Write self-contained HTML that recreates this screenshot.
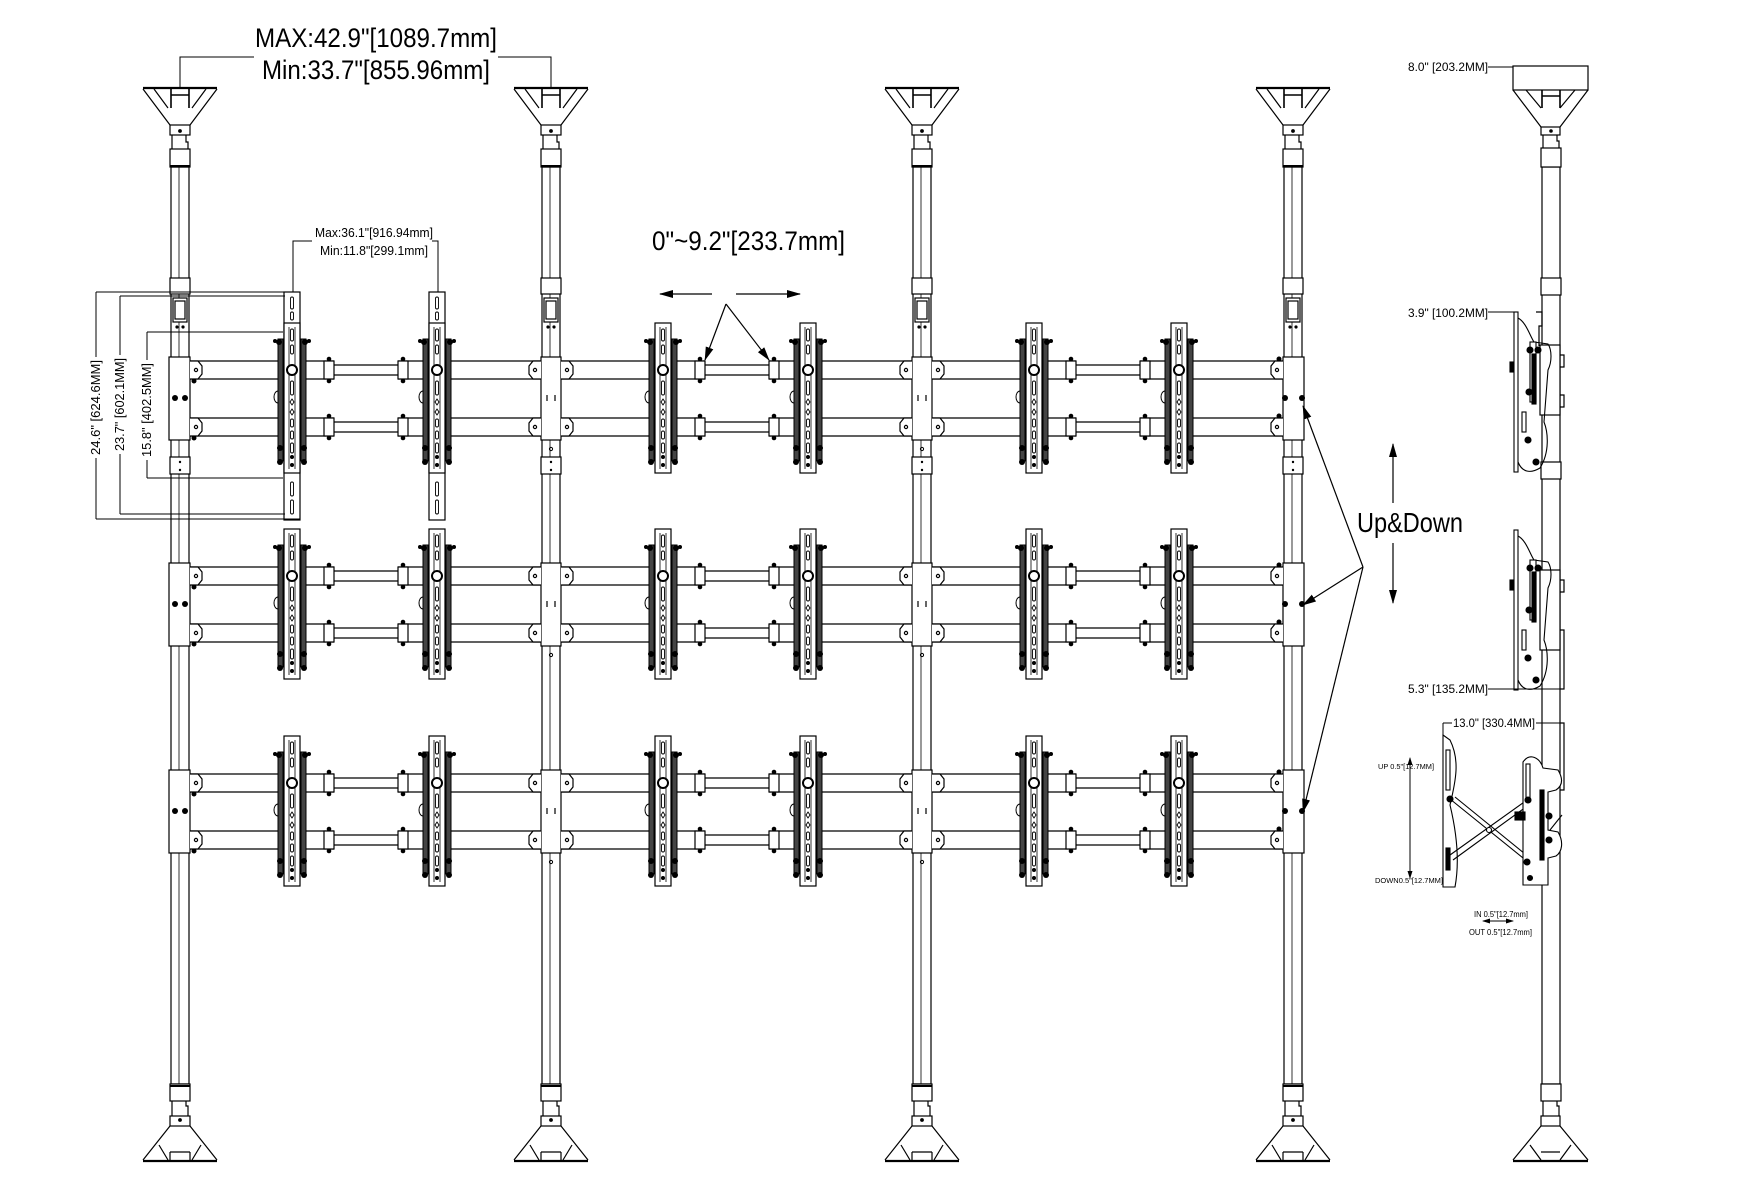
<!DOCTYPE html>
<html><head><meta charset="utf-8"><style>
html,body{margin:0;padding:0;background:#fff;}
svg{display:block;}
text{font-family:"Liberation Sans",Arial,sans-serif;fill:#000;}
</style></head><body>
<svg width="1738" height="1196" viewBox="0 0 1738 1196" xmlns="http://www.w3.org/2000/svg">
<defs>
<marker id="ah" markerWidth="14" markerHeight="8" refX="13" refY="4" orient="auto" markerUnits="userSpaceOnUse"><path d="M0,0 L14,4 L0,8 Z" fill="#000"/></marker>
<marker id="ahs" markerWidth="8" markerHeight="5" refX="7" refY="2.5" orient="auto" markerUnits="userSpaceOnUse"><path d="M0,0 L8,2.5 L0,5 Z" fill="#000"/></marker>
<g id="pole" fill="#fff" stroke="#000" stroke-width="1.2">
  <line x1="-37" y1="88" x2="37" y2="88" stroke-width="2.2"/>
  <path d="M-37,89 L-10,125 M37,89 L10,125 M-26,89 L-12,108 M26,89 L12,108" fill="none"/>
  <path d="M-9,89 V108 M9,89 V108 M-9,95 H9" fill="none" stroke-width="1.6"/>
  <rect x="-10" y="125" width="20" height="10"/>
  <circle cx="0" cy="131" r="1.3" fill="#000"/>
  <path d="M-8,135 V149 M6,135 V142 H8 V149" fill="none"/>
  <rect x="-9" y="167" width="18" height="917"/>
  <line x1="-1" y1="167" x2="-1" y2="1084" stroke-width="0.8"/>
  <rect x="-10" y="149" width="20" height="18"/>
  <line x1="-10" y1="166" x2="10" y2="166" stroke-width="2"/>
  <rect x="-10" y="278" width="20" height="16"/>
  <rect x="-7" y="298" width="14" height="24"/>
  <rect x="-5" y="301" width="10" height="18"/>
  <circle cx="-3" cy="327" r="1" fill="#000"/><circle cx="3" cy="327" r="1" fill="#000"/>
  <rect x="-10" y="1084" width="20" height="17"/>
  <line x1="-10" y1="1086" x2="10" y2="1086" stroke-width="2"/>
  <path d="M-8,1101 V1116 M6,1101 V1106 H8 V1116" fill="none"/>
  <rect x="-10" y="1116" width="20" height="10"/>
  <circle cx="0" cy="1120" r="1.3" fill="#000"/>
  <path d="M-10,1126 L-37,1160 M10,1126 L37,1160 M-21,1145 L-12,1160 M21,1145 L12,1160 M-10,1152 H10 M-10,1152 V1160 M10,1152 V1160" fill="none"/>
  <line x1="-37" y1="1161" x2="37" y2="1161" stroke-width="2.2"/>
</g>
<g id="earR" fill="#fff" stroke="#000" stroke-width="1.2">
  <path d="M0,-9 H8 L12,-4 V4 L8,9 H0"/>
  <circle cx="6" cy="0" r="1.6" fill="none"/>
</g>
<g id="earL" fill="#fff" stroke="#000" stroke-width="1.2">
  <path d="M0,-9 H-8 L-12,-4 V4 L-8,9 H0"/>
  <circle cx="-6" cy="0" r="1.6" fill="none"/>
</g>
<g id="hubM">
  <rect x="-10" y="-13" width="20" height="83" fill="#fff" stroke="#000" stroke-width="1.2"/>
  <use href="#earL" x="-10" y="0"/><use href="#earR" x="10" y="0"/>
  <use href="#earL" x="-10" y="57"/><use href="#earR" x="10" y="57"/>
  <path d="M-4,25 V31 M4,25 V31" stroke="#000" stroke-width="1.2"/>
  <circle cx="0" cy="79" r="1.6" fill="none" stroke="#000"/>
</g>
<g id="hubLft">
  <rect x="-11" y="-13" width="21" height="83" fill="#fff" stroke="#000" stroke-width="1.2"/>
  <use href="#earR" x="10" y="0"/><use href="#earR" x="10" y="57"/>
  <circle cx="-5" cy="28" r="3" fill="#000"/><circle cx="5" cy="28" r="3" fill="#000"/>
  <circle cx="14" cy="11" r="2.5" fill="#000"/><circle cx="14" cy="68" r="2.5" fill="#000"/>
</g>
<g id="hubRgt">
  <rect x="-10" y="-13" width="21" height="83" fill="#fff" stroke="#000" stroke-width="1.2"/>
  <use href="#earL" x="-10" y="0"/><use href="#earL" x="-10" y="57"/>
  <circle cx="-8" cy="28" r="3" fill="#000"/><circle cx="9" cy="28" r="3" fill="#000"/>
  <circle cx="-14" cy="-11" r="2.5" fill="#000"/><circle cx="-14" cy="46" r="2.5" fill="#000"/>
</g>
<g id="span" stroke="#000" stroke-width="1.2" fill="#fff">
  <path d="M10,-9H154 M10,9H154 M218,-9H361 M218,9H361 M154,-5H218 M154,5H218" fill="none"/>
  <rect x="144" y="-9" width="10" height="18"/>
  <rect x="218" y="-9" width="10" height="18"/>
  <circle cx="149" cy="-11" r="2.3" fill="#000" stroke="none"/><circle cx="149" cy="11" r="2.3" fill="#000" stroke="none"/>
  <circle cx="223" cy="-11" r="2.3" fill="#000" stroke="none"/><circle cx="223" cy="11" r="2.3" fill="#000" stroke="none"/>
</g>
<g id="bk">
  <rect x="-14" y="16" width="5" height="122" fill="#444" stroke="#000"/>
  <rect x="9" y="16" width="5" height="122" fill="#444" stroke="#000"/>
  <rect x="-8" y="0" width="16" height="150" fill="#fff" stroke="#000" stroke-width="1.2"/>
  <path d="M-3,4 V146 M3,4 V146" stroke="#000" stroke-width="0.8"/>
  <g fill="none" stroke="#000" stroke-width="0.9">
    <rect x="-1.5" y="6" width="3" height="12" rx="1.5"/>
    <rect x="-1.5" y="22" width="3" height="9" rx="1.5"/>
    <rect x="-1.5" y="58" width="3" height="14" rx="1.5"/>
    <path d="M0,76 l2,3 l-2,3 l-2,-3 z M0,86 l2,3 l-2,3 l-2,-3 z"/>
    <rect x="-1.5" y="96" width="3" height="8" rx="1.5"/>
    <rect x="-1.5" y="108" width="3" height="8" rx="1.5"/>
    <rect x="-1.5" y="120" width="3" height="10" rx="1.5"/>
  </g>
  <circle cx="0" cy="47" r="5" fill="#fff" stroke="#000" stroke-width="2"/>
  <circle cx="-13" cy="19" r="3" fill="#000"/><circle cx="13" cy="19" r="3" fill="#000"/>
  <circle cx="17" cy="18" r="2" fill="#000"/><circle cx="-17" cy="18" r="2" fill="#000"/>
  <circle cx="-12" cy="125" r="3" fill="#000"/><circle cx="12" cy="125" r="3" fill="#000"/>
  <circle cx="-12" cy="139" r="3" fill="#000"/><circle cx="12" cy="139" r="3" fill="#000"/>
  <circle cx="0" cy="134" r="2" fill="#000"/><circle cx="0" cy="142" r="2" fill="#000"/>
  <path d="M-14,68 a4,6 0 0 0 0,12 z" fill="#fff" stroke="#000"/>
</g>
<g id="sideBk" fill="none" stroke="#000" stroke-width="1.1">
  <rect x="1514" y="0" width="4" height="160" fill="#fff"/>
  <path d="M1518,6 C1526,10 1530,24 1534,30 L1548,32 C1552,38 1552,50 1548,58 L1544,110 C1548,120 1550,140 1540,156 C1530,162 1522,160 1518,150"/>
  <rect x="1530" y="30" width="6" height="60" fill="#fff"/>
  <rect x="1522" y="100" width="4" height="20" fill="#fff"/>
  <rect x="1532" y="42" width="4" height="50" fill="#000"/>
  <circle cx="1530" cy="38" r="3" fill="#000"/><circle cx="1538" cy="38" r="3" fill="#000"/>
  <circle cx="1529" cy="80" r="3" fill="#000"/><circle cx="1528" cy="128" r="3" fill="#000"/>
  <circle cx="1536" cy="150" r="3" fill="#000"/>
  <rect x="1510" y="50" width="3" height="10" fill="#000"/>
</g>
</defs>

<use href="#pole" x="180"/><use href="#pole" x="551"/><use href="#pole" x="922"/><use href="#pole" x="1293"/>

<g fill="#fff" stroke="#000" stroke-width="1.2">
  <rect x="170" y="457" width="20" height="17"/><rect x="541" y="457" width="20" height="17"/>
  <rect x="912" y="457" width="20" height="17"/><rect x="1283" y="457" width="20" height="17"/>
</g>
<g fill="#000">
  <circle cx="551" cy="462" r="1.2"/><circle cx="551" cy="470" r="1.2"/>
  <circle cx="922" cy="462" r="1.2"/><circle cx="922" cy="470" r="1.2"/>
  <circle cx="1293" cy="462" r="1.2"/><circle cx="1293" cy="470" r="1.2"/>
  <circle cx="180" cy="462" r="1.2"/><circle cx="180" cy="470" r="1.2"/>
</g>

<g>
  <use href="#span" x="180" y="370"/><use href="#span" x="551" y="370"/><use href="#span" x="922" y="370"/>
  <use href="#span" x="180" y="427"/><use href="#span" x="551" y="427"/><use href="#span" x="922" y="427"/>
  <use href="#span" x="180" y="576"/><use href="#span" x="551" y="576"/><use href="#span" x="922" y="576"/>
  <use href="#span" x="180" y="633"/><use href="#span" x="551" y="633"/><use href="#span" x="922" y="633"/>
  <use href="#span" x="180" y="783"/><use href="#span" x="551" y="783"/><use href="#span" x="922" y="783"/>
  <use href="#span" x="180" y="840"/><use href="#span" x="551" y="840"/><use href="#span" x="922" y="840"/>
</g>

<use href="#hubLft" x="180" y="370"/><use href="#hubLft" x="180" y="576"/><use href="#hubLft" x="180" y="783"/>
<use href="#hubM" x="551" y="370"/><use href="#hubM" x="551" y="576"/><use href="#hubM" x="551" y="783"/>
<use href="#hubM" x="922" y="370"/><use href="#hubM" x="922" y="576"/><use href="#hubM" x="922" y="783"/>
<use href="#hubRgt" x="1293" y="370"/><use href="#hubRgt" x="1293" y="576"/><use href="#hubRgt" x="1293" y="783"/>

<g fill="#fff" stroke="#000" stroke-width="1.2">
  <rect x="284" y="292" width="16" height="228"/>
  <rect x="429" y="292" width="16" height="228"/>
  <g fill="none" stroke-width="0.9">
    <rect x="290.5" y="297" width="3" height="12" rx="1.5"/><rect x="290.5" y="312" width="3" height="8" rx="1.5"/>
    <rect x="290.5" y="482" width="3" height="14" rx="1.5"/><rect x="290.5" y="500" width="3" height="14" rx="1.5"/>
    <rect x="435.5" y="297" width="3" height="12" rx="1.5"/><rect x="435.5" y="312" width="3" height="8" rx="1.5"/>
    <rect x="435.5" y="482" width="3" height="14" rx="1.5"/><rect x="435.5" y="500" width="3" height="14" rx="1.5"/>
  </g>
</g>

<g>
  <use href="#bk" x="292" y="323"/><use href="#bk" x="437" y="323"/>
  <use href="#bk" x="663" y="323"/><use href="#bk" x="808" y="323"/>
  <use href="#bk" x="1034" y="323"/><use href="#bk" x="1179" y="323"/>
  <use href="#bk" x="292" y="529"/><use href="#bk" x="437" y="529"/>
  <use href="#bk" x="663" y="529"/><use href="#bk" x="808" y="529"/>
  <use href="#bk" x="1034" y="529"/><use href="#bk" x="1179" y="529"/>
  <use href="#bk" x="292" y="736"/><use href="#bk" x="437" y="736"/>
  <use href="#bk" x="663" y="736"/><use href="#bk" x="808" y="736"/>
  <use href="#bk" x="1034" y="736"/><use href="#bk" x="1179" y="736"/>
</g>

<g stroke="#000" stroke-width="1" fill="none">
  <path d="M180,88 V57 H254 M498,57 H551 V88"/>
  <path d="M293,292 V241 H312 M432,241 H438 V292"/>
  <path d="M96,292 H300 M96,519 H300 M96,292 V357 M96,458 V519"/>
  <path d="M120,296 H285 M120,514 H285 M120,296 V355 M120,454 V514"/>
  <path d="M147,332 H283 M147,478 H283 M147,332 V360 M147,460 V478"/>
</g>
<text x="255" y="47" font-size="27" textLength="242" lengthAdjust="spacingAndGlyphs">MAX:42.9"[1089.7mm]</text>
<text x="262" y="79" font-size="27" textLength="228" lengthAdjust="spacingAndGlyphs">Min:33.7"[855.96mm]</text>
<text x="315" y="237" font-size="12.5" textLength="118" lengthAdjust="spacingAndGlyphs">Max:36.1"[916.94mm]</text>
<text x="320" y="255" font-size="12.5" textLength="108" lengthAdjust="spacingAndGlyphs">Min:11.8"[299.1mm]</text>
<text transform="translate(100,455) rotate(-90)" font-size="13" textLength="95" lengthAdjust="spacingAndGlyphs">24.6" [624.6MM]</text>
<text transform="translate(124,451) rotate(-90)" font-size="13" textLength="93" lengthAdjust="spacingAndGlyphs">23.7" [602.1MM]</text>
<text transform="translate(151,457) rotate(-90)" font-size="13" textLength="94" lengthAdjust="spacingAndGlyphs">15.8" [402.5MM]</text>

<text x="652" y="250" font-size="27" textLength="193" lengthAdjust="spacingAndGlyphs">0"~9.2"[233.7mm]</text>
<g stroke="#000" stroke-width="1.2">
  <line x1="712" y1="294" x2="660" y2="294" marker-end="url(#ah)"/>
  <line x1="736" y1="294" x2="800" y2="294" marker-end="url(#ah)"/>
  <line x1="726" y1="304" x2="705" y2="360" marker-end="url(#ah)"/>
  <line x1="726" y1="304" x2="769" y2="360" marker-end="url(#ah)"/>
</g>

<text x="1357" y="532" font-size="28" textLength="106" lengthAdjust="spacingAndGlyphs">Up&amp;Down</text>
<g stroke="#000" stroke-width="1.2">
  <line x1="1393" y1="503" x2="1393" y2="444" marker-end="url(#ah)"/>
  <line x1="1393" y1="543" x2="1393" y2="603" marker-end="url(#ah)"/>
  <line x1="1363" y1="567" x2="1303" y2="406" marker-end="url(#ah)"/>
  <line x1="1363" y1="567" x2="1303" y2="605" marker-end="url(#ah)"/>
  <line x1="1363" y1="567" x2="1303" y2="812" marker-end="url(#ah)"/>
</g>

<g fill="#fff" stroke="#000" stroke-width="1.2">
  <rect x="1513" y="66" width="75" height="24"/>
  <path d="M1513,90 L1541,127 M1588,90 L1560,127 M1526,90 L1541,108 M1575,90 L1560,108" fill="none"/>
  <path d="M1542,90 V108 M1560,90 V108 M1542,96 H1560" fill="none" stroke-width="1.6"/>
  <rect x="1541" y="127" width="19" height="8"/>
  <circle cx="1551" cy="131" r="1.2" fill="#000"/>
  <path d="M1543,135 V148 M1557,135 V141 H1559 V148" fill="none"/>
  <rect x="1542" y="167" width="18" height="917"/>
  <rect x="1541" y="148" width="20" height="19"/>
  <rect x="1541" y="278" width="20" height="17"/>
  <rect x="1540" y="345" width="20" height="70"/>
  <path d="M1560,355 h4 v12 h-4 M1560,395 h4 v12 h-4" fill="none"/>
  <rect x="1541" y="462" width="20" height="17"/>
  <rect x="1540" y="570" width="20" height="80"/>
  <path d="M1560,580 h4 v12 h-4 M1560,630 h4 v59 h-4" fill="none"/>
  <path d="M1560,723 h4 v67 h-4" fill="none"/>
  <rect x="1541" y="1084" width="20" height="17"/>
  <path d="M1543,1101 V1116 M1557,1101 V1106 H1559 V1116" fill="none"/>
  <rect x="1541" y="1116" width="19" height="10"/>
  <path d="M1541,1126 L1513,1160 M1560,1126 L1588,1160 M1530,1145 L1541,1160 M1571,1145 L1560,1160 M1541,1152 H1560" fill="none"/>
  <line x1="1513" y1="1161" x2="1588" y2="1161" stroke-width="2.2"/>
  <path d="M1536,312 h6 v14 h-3 v20" fill="none"/>
</g>
<use href="#sideBk" x="0" y="312"/>
<use href="#sideBk" x="0" y="530"/>
<g stroke="#000" stroke-width="1.1" fill="#fff">
  <path d="M1443,735 V887 H1455 C1460,860 1456,830 1450,805 C1456,780 1460,760 1450,740 Z"/>
  <rect x="1446" y="750" width="4" height="40"/>
  <rect x="1446" y="848" width="4" height="22" fill="#000"/>
  <path d="M1450,799 L1528,862 M1450,855 L1527,800 M1455,797 L1530,858 M1453,860 L1530,804" fill="none"/>
  <circle cx="1489" cy="830" r="2.5"/>
  <path d="M1523,885 V762 C1530,752 1540,758 1543,768 L1558,770 C1564,780 1562,786 1556,790 L1548,792 V830 L1558,832 C1564,842 1562,852 1556,856 L1548,858 V885 Z"/>
  <rect x="1526" y="764" width="4" height="38"/>
  <rect x="1540" y="790" width="4" height="70" fill="#000"/>
  <circle cx="1450" cy="799" r="3" fill="#000"/><circle cx="1528" cy="800" r="3" fill="#000"/>
  <circle cx="1527" cy="862" r="3" fill="#000"/><circle cx="1530" cy="878" r="2.5" fill="#000"/>
  <rect x="1515" y="812" width="10" height="8" fill="#000"/>
  <circle cx="1549" cy="816" r="3" fill="#000"/><circle cx="1549" cy="840" r="3" fill="#000"/>
  <line x1="1550" y1="830" x2="1562" y2="815"/>
</g>
<g stroke="#000" stroke-width="1">
  <path d="M1488,67 H1513 M1488,312 H1514 M1488,689 H1560 M1443,723 H1452 M1536,723 H1560 M1443,723 V735" fill="none"/>
  <line x1="1410" y1="770" x2="1410" y2="758" marker-end="url(#ahs)"/>
  <line x1="1410" y1="770" x2="1410" y2="878" marker-end="url(#ahs)"/>
  <line x1="1497" y1="921" x2="1483" y2="921" marker-end="url(#ahs)"/>
  <line x1="1497" y1="921" x2="1513" y2="921" marker-end="url(#ahs)"/>
</g>
<text x="1408" y="71" font-size="12" textLength="80" lengthAdjust="spacingAndGlyphs">8.0" [203.2MM]</text>
<text x="1408" y="317" font-size="12" textLength="80" lengthAdjust="spacingAndGlyphs">3.9" [100.2MM]</text>
<text x="1408" y="693" font-size="12" textLength="80" lengthAdjust="spacingAndGlyphs">5.3" [135.2MM]</text>
<text x="1453" y="727" font-size="12" textLength="82" lengthAdjust="spacingAndGlyphs">13.0" [330.4MM]</text>
<text x="1378" y="769" font-size="7.5" textLength="56" lengthAdjust="spacingAndGlyphs">UP 0.5"[12.7MM]</text>
<text x="1375" y="883" font-size="7.5" textLength="68" lengthAdjust="spacingAndGlyphs">DOWN0.5"[12.7MM]</text>
<text x="1474" y="917" font-size="8" textLength="54" lengthAdjust="spacingAndGlyphs">IN  0.5"[12.7mm]</text>
<text x="1469" y="935" font-size="8" textLength="63" lengthAdjust="spacingAndGlyphs">OUT  0.5"[12.7mm]</text>
</svg>
</body></html>
